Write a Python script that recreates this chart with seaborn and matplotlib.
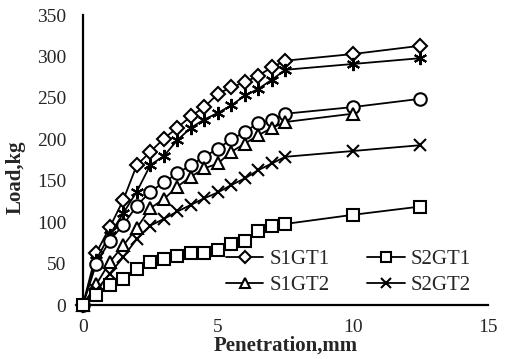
import numpy as np
import matplotlib
matplotlib.use('Agg')
import matplotlib.pyplot as plt
import seaborn as sns
from matplotlib.lines import Line2D

# penetration values (mm)
pen = [0, 0.5, 1, 1.5, 2, 2.5, 3, 3.5, 4, 4.5, 5, 5.5, 6, 6.5, 7, 7.5, 10, 12.5]

# loads (kg)
s1gt1 = [0, 63, 94, 127, 169, 185, 201, 214, 228, 239, 255, 263, 269, 277, 287, 295, 303, 313]
s2gt1 = [0, 12, 24, 32, 44, 52, 56, 59, 63, 63, 67, 74, 78, 89, 95, 98, 109, 119]
s1gt2 = [0, 25, 52, 72, 93, 117, 128, 143, 155, 165, 171, 185, 195, 205, 214, 221, 231, np.nan]
s2gt2 = [0, 18, 38, 58, 80, 96, 104, 113, 121, 129, 136, 145, 153, 163, 171, 179, 186, 193]
# two extra series drawn in the chart but not shown in the legend
circ = [0, 50, 78, 97, 120, 137, 148, 159, 169, 179, 189, 200, 209, 220, 223, 231, 239, 249]
star = [0, 55, 85, 111, 137, 169, 180, 199, 214, 224, 232, 241, 253, 261, 272, 284, 291, 298]

sns.set_style('white')
plt.rcParams['font.family'] = ['Liberation Serif', 'DejaVu Serif']

fig = plt.figure(figsize=(5.11, 3.59), dpi=100)
ax = fig.add_axes([0.162, 0.150, 0.793, 0.808])

series = [
    (s1gt1, 'D', 7, 'S1GT1'),
    (star, (6, 2, 0), 9.5, None),
    (circ, 'o', 9, None),
    (s1gt2, '^', 8.5, 'S1GT2'),
    (s2gt2, 'x', 8.5, 'S2GT2'),
    (s2gt1, 's', 9, 'S2GT1'),
]

handles = {}
for vals, mk, ms, name in series:
    sns.lineplot(x=pen, y=vals, ax=ax, color='black', lw=1.3, marker=mk, ms=ms,
                 markerfacecolor='white', markeredgecolor='black', mew=1.5,
                 clip_on=False, zorder=3)
    if name:
        handles[name] = Line2D([], [], color='black', lw=1.3, marker=mk, ms=ms * 0.85,
                               markerfacecolor='white', markeredgecolor='black', mew=1.5)

ax.set_xlim(0, 15)
ax.set_ylim(0, 350)
ax.set_xticks([0, 5, 10, 15])
ax.set_yticks(range(0, 351, 50))
for s in ['top', 'right']:
    ax.spines[s].set_visible(False)
for s in ['left', 'bottom']:
    ax.spines[s].set_linewidth(1.6)
    ax.spines[s].set_color('black')
ax.tick_params(direction='in', length=4, width=1.5, labelsize=14)
ax.tick_params(axis='x', pad=10)
ax.tick_params(axis='y', pad=12)

ax.set_xlabel('Penetration,mm', fontsize=15, fontweight='bold')
ax.set_ylabel('Load,kg', fontsize=15, fontweight='bold')
ax.xaxis.set_label_coords(0.5, -0.105)
ax.yaxis.set_label_coords(-0.142, 0.44)

order = ['S1GT1', 'S1GT2', 'S2GT1', 'S2GT2']
ax.legend([handles[k] for k in order], order, ncol=2, frameon=False, fontsize=15,
          loc='upper left', bbox_to_anchor=(0.442, 0.304), bbox_transform=fig.transFigure,
          borderpad=0, borderaxespad=0, handlelength=1.8, handletextpad=0.3,
          columnspacing=1.8, labelspacing=0.3)

fig.savefig('out.png', dpi=100)
